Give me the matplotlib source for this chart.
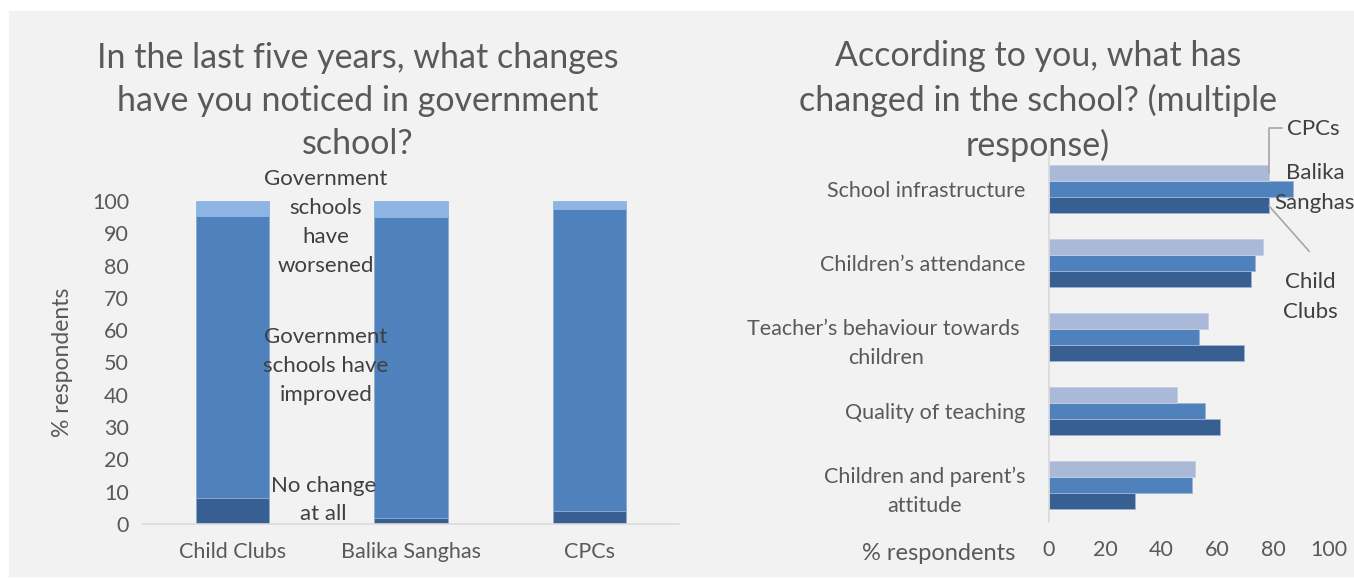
import matplotlib.pyplot as plt
import matplotlib.patches as mpatches
import numpy as np

plt.rcParams["font.family"] = ["Lato", "DejaVu Sans"]

TEXT = "#595959"
GRID = "#D9D9D9"

# left chart: stacked shares per group
groups = ["Child Clubs", "Balika Sanghas", "CPCs"]
no_change = [8.0, 2.0, 4.0]
improved = [87.4, 93.1, 93.5]
worsened = [4.6, 4.9, 2.5]

# right chart: multiple response, % respondents
aspects = [
    "School infrastructure",
    "Children\u2019s attendance",
    "Teacher\u2019s behaviour towards \nchildren",
    "Quality of teaching",
    "Children and parent\u2019s\nattitude",
]
child_clubs = [78.6, 72.1, 69.8, 61.1, 30.8]
balika_sanghas = [87.0, 73.6, 53.4, 55.7, 51.2]
cpcs = [78.6, 76.3, 56.8, 45.7, 52.3]

W, H = 1354, 579
fig = plt.figure(figsize=(W / 100, H / 100), dpi=100, facecolor="white")
fig.patches.append(mpatches.Rectangle((9 / W, 3 / H), 1 - 9 / W, (H - 14) / H,
                                      transform=fig.transFigure, color="#F2F2F2",
                                      zorder=-10))

FS = 15.5

# ---- left chart ----
ax1 = fig.add_axes([143 / W, 55 / H, 536 / W, 323 / H])
ax1.set_facecolor("none")
x = np.arange(len(groups))
bw = 0.41
ax1.bar(x, no_change, bw, color="#375F91", edgecolor="#8EA9CF", linewidth=0.6)
ax1.bar(x, improved, bw, bottom=no_change, color="#4F81BD", edgecolor="#8EA9CF", linewidth=0.6)
bottom2 = np.array(no_change) + np.array(improved)
ax1.bar(x, worsened, bw, bottom=bottom2, color="#8EB4E3", edgecolor="#8EB4E3", linewidth=0.6)
ax1.set_xlim(-0.5, 2.5)
ax1.set_ylim(0, 100)
ax1.set_yticks(range(0, 101, 10))
ax1.set_xticks(x)
ax1.set_xticklabels(groups)
for s in ["top", "right", "left"]:
    ax1.spines[s].set_visible(False)
ax1.spines["bottom"].set_color(GRID)
ax1.spines["bottom"].set_linewidth(1.2)
ax1.tick_params(axis="both", length=0, labelsize=FS, colors=TEXT)
ax1.tick_params(axis="x", pad=13)
ax1.tick_params(axis="y", pad=10)
ax1.set_ylabel("% respondents", fontsize=16.5, color=TEXT, labelpad=14)

lab = dict(ha="center", va="center", fontsize=16, color="#404040", linespacing=1.55)
ax1.text(0.524, 93.3, "Government\nschools\nhave\nworsened", **lab)
ax1.text(0.524, 49, "Government\nschools have\nimproved", **lab)
ax1.text(0.51, 7.4, "No change\nat all", **lab)

fig.text(358 / W, 1 - 101 / H,
         "In the last five years, what changes\nhave you noticed in government\nschool?",
         ha="center", va="center", fontsize=24.5, color=TEXT, linespacing=1.42)

# ---- right chart ----
ax2 = fig.add_axes([1049 / W, 57 / H, 280 / W, 370 / H])
ax2.set_facecolor("none")
y = np.arange(len(aspects))
bh = 0.217
ax2.barh(y + bh, child_clubs, bh, color="#385F92", edgecolor="#9FB3D3", linewidth=0.6)
ax2.barh(y, balika_sanghas, bh, color="#4F81BD", edgecolor="#9FB3D3", linewidth=0.6)
ax2.barh(y - bh, cpcs, bh, color="#A9B9D7", edgecolor="#C3CFE3", linewidth=0.6)
ax2.set_ylim(4.5, -0.5)
ax2.set_xlim(0, 100)
ax2.set_xticks(range(0, 101, 20))
ax2.set_yticks(y)
ax2.set_yticklabels(aspects, multialignment="center", linespacing=1.55)
for s in ["top", "right", "bottom"]:
    ax2.spines[s].set_visible(False)
ax2.spines["left"].set_color(GRID)
ax2.spines["left"].set_linewidth(1.2)
ax2.tick_params(axis="both", length=0, labelsize=FS, colors=TEXT)
ax2.tick_params(axis="x", pad=13)
ax2.tick_params(axis="y", pad=17)
fig.text(1015 / W, 1 - 554 / H, "% respondents", ha="right", va="center",
         fontsize=17, color=TEXT)

fig.text(1038 / W, 1 - 101 / H,
         "According to you, what has\nchanged in the school? (multiple\nresponse)",
         ha="center", va="center", fontsize=24.5, color=TEXT, linespacing=1.42)

# series labels with leader lines
lk = dict(ha="center", va="center", fontsize=16, color="#404040", linespacing=1.6)
ax2.plot([cpcs[0], cpcs[0], 83.2], [-0.22, -0.83, -0.83], color="#A6A6A6",
         lw=1.2, clip_on=False)
ax2.text(94.5, -0.81, "CPCs", **lk)
ax2.text(95, -0.01, "Balika\nSanghas", **lk)
ax2.plot([child_clubs[0], 92.9], [0.23, 0.84], color="#A6A6A6", lw=1.2, clip_on=False)
ax2.text(93.2, 1.46, "Child\nClubs", **lk)

fig.savefig("out.png", dpi=100, facecolor="white")
